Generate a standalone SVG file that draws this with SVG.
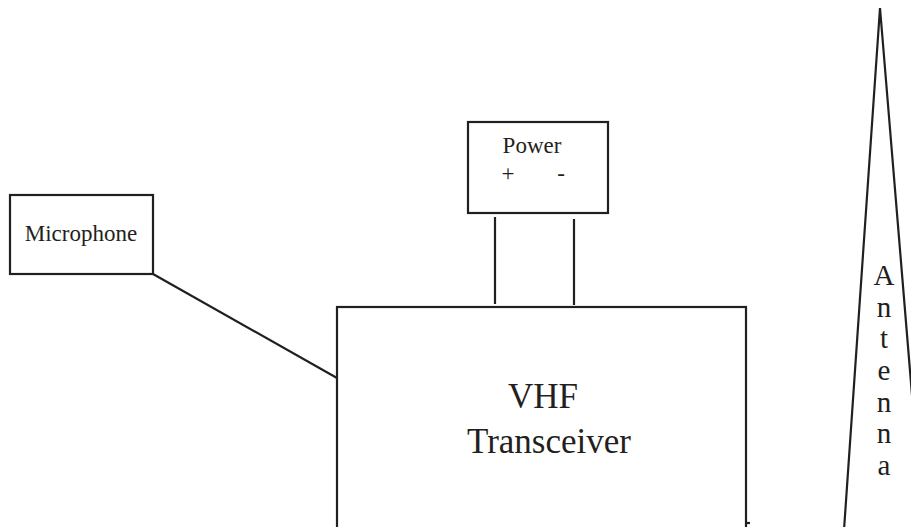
<svg xmlns="http://www.w3.org/2000/svg" width="911" height="527" viewBox="0 0 911 527">
<style>
.box{fill:#fff;stroke:#231f20;stroke-width:2.2}
.ln{fill:none;stroke:#231f20;stroke-width:2.2}
text{font-family:"Liberation Serif","Times New Roman",serif;fill:#231f20}
.s{font-size:23px}
.b{font-size:35px;text-anchor:middle}
.a{font-size:29px;text-anchor:middle}
</style>
<rect width="911" height="527" fill="#fff"/>
<g id="connectors">
<line class="ln" x1="153" y1="274" x2="337" y2="378"/>
<line class="ln" x1="495" y1="217" x2="495" y2="304"/>
<line class="ln" x1="574" y1="219" x2="574" y2="305"/>
</g>
<g id="microphone">
<rect class="box" x="10" y="195" width="143" height="79"/>
<text class="s" x="81" y="241" text-anchor="middle">Microphone</text>
</g>
<g id="power">
<rect class="box" x="468" y="122" width="140" height="91"/>
<text class="s" x="532" y="153" text-anchor="middle">Power</text>
<text class="s" x="508" y="181" text-anchor="middle">+</text>
<text class="s" x="561" y="181" text-anchor="middle">-</text>
</g>
<g id="transceiver">
<rect class="box" x="337" y="307" width="409" height="240"/>
<line class="ln" x1="746" y1="523" x2="750" y2="523"/>
<text class="b" x="543" y="408">VHF</text>
<text class="b" x="549" y="453">Transceiver</text>
</g>
<g id="antenna">
<polyline class="ln" points="844,530 880,8 924,540"/>
<text class="a"><tspan x="884" y="285">A</tspan><tspan x="884" y="316.7">n</tspan><tspan x="884" y="348.3">t</tspan><tspan x="884" y="380">e</tspan><tspan x="884" y="411.7">n</tspan><tspan x="884" y="443.3">n</tspan><tspan x="884" y="475">a</tspan></text>
</g>
</svg>
